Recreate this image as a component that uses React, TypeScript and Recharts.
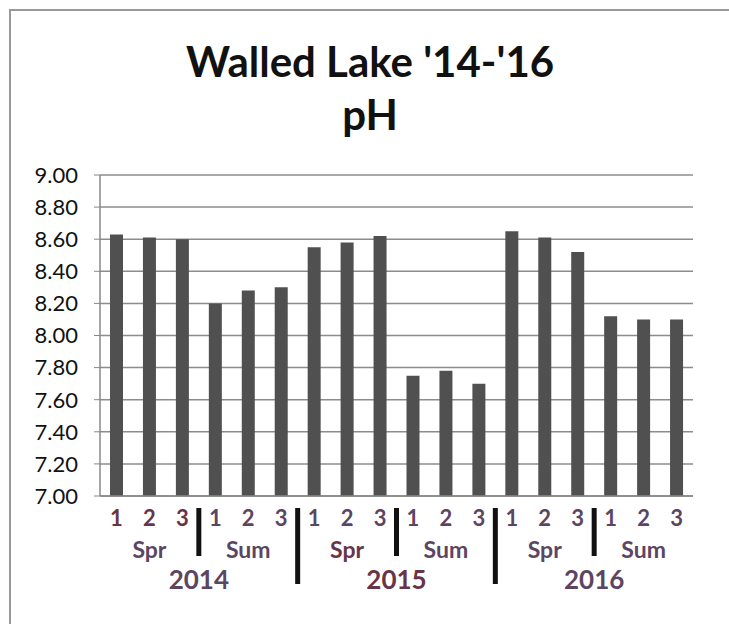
import { BarChart, Bar, XAxis, YAxis, CartesianGrid } from 'recharts';

const samples = ['1', '2', '3', '1', '2', '3', '1', '2', '3', '1', '2', '3', '1', '2', '3', '1', '2', '3'];
const seasons = ['Spr', 'Spr', 'Spr', 'Sum', 'Sum', 'Sum', 'Spr', 'Spr', 'Spr', 'Sum', 'Sum', 'Sum', 'Spr', 'Spr', 'Spr', 'Sum', 'Sum', 'Sum'];
const years = ['2014', '2014', '2014', '2014', '2014', '2014', '2015', '2015', '2015', '2015', '2015', '2015', '2016', '2016', '2016', '2016', '2016', '2016'];
const phValues = [8.63, 8.61, 8.60, 8.20, 8.28, 8.30, 8.55, 8.58, 8.62, 7.75, 7.78, 7.70, 8.65, 8.61, 8.52, 8.12, 8.10, 8.10];
const yTicks = [7.0, 7.2, 7.4, 7.6, 7.8, 8.0, 8.2, 8.4, 8.6, 8.8, 9.0];

const data = phValues.map((v, i) => ({
  key: `${years[i]}-${seasons[i]}-${samples[i]}`,
  sample: samples[i],
  season: seasons[i],
  year: years[i],
  ph: v,
}));

const FONT = 'Lato, "Open Sans", sans-serif';
const CHART_W = 729;
const CHART_H = 624;
const MARGIN = { top: 175, right: 36, bottom: 38, left: 40 };
const Y_W = 60;
const SLOT = (CHART_W - MARGIN.left - MARGIN.right - Y_W) / data.length;
const LABEL = '#5c4562';
const MAROON = '#6a3448';

// 1 2 3 under each bar, plus the black separators
const SampleTick = (props: any) => {
  const { x, y, payload } = props;
  const i = payload.index;
  const sepX = x + SLOT / 2;
  const showSep = i % 3 === 2 && i < data.length - 1;
  const long = i % 6 === 5;
  return (
    <g>
      <text x={x} y={y + 22} textAnchor="middle" fontFamily={FONT} fontWeight={700} fontSize={22} fill={i < 3 ? MAROON : LABEL}>
        {data[i]?.sample}
      </text>
      {showSep && (
        <line x1={sepX} x2={sepX} y1={y + 4} y2={y + (long ? 80 : 52)} stroke="#111" strokeWidth={5} />
      )}
    </g>
  );
};

const SeasonTick = (props: any) => {
  const { x, y, payload } = props;
  const i = payload.index;
  if (i % 3 !== 1) return <g />;
  return (
    <text x={x} y={y + 24} textAnchor="middle" fontFamily={FONT} fontWeight={700} fontSize={23} fill={i === 7 ? MAROON : LABEL}>
      {data[i]?.season}
    </text>
  );
};

const YearTick = (props: any) => {
  const { x, y, payload } = props;
  const i = payload.index;
  if (i % 6 !== 2) return <g />;
  return (
    <text x={x + SLOT / 2} y={y + 25} textAnchor="middle" fontFamily={FONT} fontWeight={700} fontSize={26} fill={i === 8 ? MAROON : LABEL}>
      {data[i]?.year}
    </text>
  );
};

export default function App() {
  return (
    <div style={{ position: 'absolute', left: 0, top: 0, width: CHART_W, height: CHART_H, background: '#fff', overflow: 'hidden' }}>
      {/* frame */}
      <div style={{ position: 'absolute', left: 9, top: 9, width: 740, height: 640, border: '2px solid #999' }} />
      <div style={{ position: 'absolute', left: 0, top: 37, width: 740, textAlign: 'center', fontFamily: FONT, fontWeight: 700, fontSize: 42, color: '#111', lineHeight: '48px' }}>
        Walled Lake '14-'16
      </div>
      <div style={{ position: 'absolute', left: 0, top: 90, width: 740, textAlign: 'center', fontFamily: FONT, fontWeight: 700, fontSize: 42, color: '#111', lineHeight: '48px' }}>
        pH
      </div>
      <BarChart width={CHART_W} height={CHART_H} data={data} margin={MARGIN} barCategoryGap={0}>
        <CartesianGrid vertical={false} stroke="#8c8c8c" strokeWidth={1.5} />
        <YAxis
          domain={[7, 9]}
          ticks={yTicks}
          interval={0}
          width={Y_W}
          tickFormatter={(v: number) => v.toFixed(2)}
          tick={{ fontFamily: FONT, fontWeight: 400, fontSize: 22, fill: '#111' }}
          tickSize={6}
          tickMargin={16}
          stroke="#888"
          axisLine={{ stroke: '#888', strokeWidth: 1.5 }}
        />
        <XAxis xAxisId="sample" dataKey="key" interval={0} height={30} tick={SampleTick} tickLine={false} axisLine={{ stroke: '#888', strokeWidth: 1.5 }} />
        <XAxis xAxisId="season" dataKey="key" interval={0} height={30} tick={SeasonTick} tickLine={false} axisLine={false} />
        <XAxis xAxisId="year" dataKey="key" interval={0} height={30} tick={YearTick} tickLine={false} axisLine={false} />
        <Bar xAxisId="sample" dataKey="ph" fill="#505050" barSize={13} isAnimationActive={false} />
      </BarChart>
    </div>
  );
}
